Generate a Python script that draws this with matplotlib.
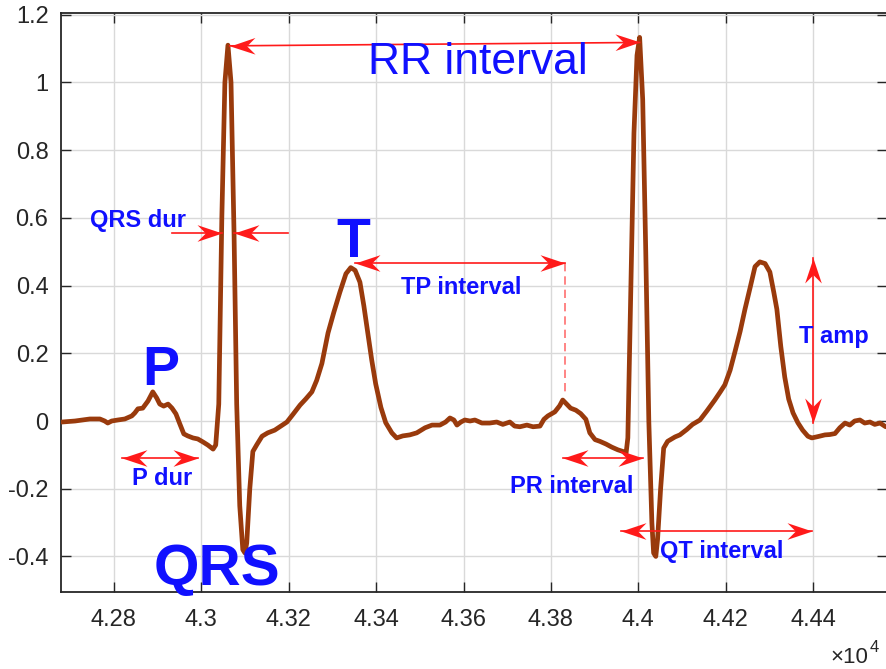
import numpy as np
import matplotlib
matplotlib.use("Agg")
import matplotlib.pyplot as plt
from matplotlib.path import Path
from matplotlib.markers import MarkerStyle
from matplotlib.transforms import Affine2D
from matplotlib.ticker import FuncFormatter

plt.rcParams['font.family'] = ['Liberation Sans', 'DejaVu Sans']

# ECG trace (sample index, amplitude)
ecg_x = [42681, 42711, 42745, 42768, 42779, 42786, 42795, 42809, 42825, 42841,
         42848, 42855, 42866, 42878, 42889, 42898, 42905, 42914, 42924, 42933,
         42942, 42951, 42960, 42969, 42981, 42992, 43004, 43015, 43027, 43033,
         43040, 43047, 43054, 43061, 43068, 43075, 43081, 43088, 43095, 43100,
         43104, 43111, 43118, 43127, 43139, 43152, 43168, 43182, 43196, 43210,
         43226, 43239, 43253, 43264, 43276, 43290, 43303, 43317, 43331, 43342,
         43352, 43363, 43372, 43381, 43390, 43399, 43411, 43422, 43436, 43447,
         43461, 43477, 43493, 43512, 43528, 43546, 43559, 43569, 43578, 43585,
         43594, 43603, 43615, 43626, 43642, 43660, 43676, 43690, 43706, 43717,
         43729, 43745, 43759, 43775, 43784, 43793, 43809, 43820, 43827, 43836,
         43845, 43857, 43868, 43880, 43889, 43901, 43912, 43926, 43939, 43953,
         43965, 43972, 43976, 43983, 43990, 43997, 44003, 44010, 44017, 44024,
         44031, 44035, 44040, 44044, 44051, 44058, 44067, 44084, 44095, 44111,
         44124, 44141, 44157, 44175, 44187, 44198, 44210, 44221, 44233, 44244,
         44256, 44267, 44278, 44290, 44301, 44310, 44317, 44326, 44335, 44344,
         44354, 44365, 44376, 44388, 44397, 44411, 44427, 44438, 44450, 44461,
         44473, 44484, 44495, 44507, 44518, 44530, 44541, 44553, 44566]
ecg_y = [-0.003, 0.0, 0.006, 0.006, 0.0, -0.006, 0.0, 0.003, 0.006, 0.015,
         0.024, 0.036, 0.038, 0.059, 0.086, 0.068, 0.05, 0.044, 0.05, 0.038,
         0.021, -0.009, -0.038, -0.044, -0.05, -0.053, -0.062, -0.071, -0.083, -0.071,
         0.05, 0.6, 1.0, 1.11, 1.0, 0.55, 0.05, -0.25, -0.38, -0.39,
         -0.36, -0.2, -0.09, -0.07, -0.045, -0.035, -0.027, -0.015, -0.003, 0.02,
         0.047, 0.065, 0.086, 0.12, 0.17, 0.26, 0.32, 0.38, 0.435, 0.453,
         0.445, 0.41, 0.34, 0.26, 0.18, 0.11, 0.04, -0.005, -0.035, -0.05,
         -0.044, -0.041, -0.035, -0.02, -0.012, -0.012, -0.003, 0.009, 0.003, -0.012,
         -0.003, 0.003, 0.0, 0.003, -0.006, -0.006, -0.003, -0.01, -0.003, -0.015,
         -0.017, -0.012, -0.017, -0.015, 0.005, 0.015, 0.027, 0.045, 0.062, 0.05,
         0.038, 0.032, 0.022, 0.005, -0.035, -0.055, -0.06, -0.068, -0.077, -0.085,
         -0.09, -0.095, -0.05, 0.4, 0.85, 1.08, 1.133, 0.95, 0.5, 0.0,
         -0.3, -0.39, -0.40, -0.35, -0.2, -0.08, -0.06, -0.047, -0.041, -0.025,
         -0.01, 0.003, 0.03, 0.062, 0.085, 0.107, 0.15, 0.204, 0.265, 0.33,
         0.395, 0.456, 0.47, 0.465, 0.44, 0.38, 0.33, 0.22, 0.13, 0.065,
         0.024, -0.005, -0.027, -0.045, -0.05, -0.046, -0.041, -0.04, -0.037, -0.02,
         -0.006, -0.012, 0.0, 0.003, -0.006, -0.003, -0.01, -0.006, -0.017]

x_ticks = [42800, 43000, 43200, 43400, 43600, 43800, 44000, 44200, 44400]
y_ticks = [-0.4, -0.2, 0, 0.2, 0.4, 0.6, 0.8, 1.0, 1.2]

# interval arrows: (x0, y0, x1, y1, head at start, head at end)
arrows = [
    (43065, 1.108, 44003, 1.118, True, True),     # RR
    (42933, 0.556, 43047, 0.556, False, True),    # QRS dur left
    (43198, 0.556, 43075, 0.556, False, True),    # QRS dur right
    (42818, -0.109, 42992, -0.109, True, True),   # P dur
    (43352, 0.467, 43832, 0.467, True, True),     # TP
    (43827, -0.109, 44010, -0.109, True, True),   # PR
    (43960, -0.325, 44397, -0.325, True, True),   # QT
    (44399, 0.482, 44399, -0.006, True, True),    # T amp
]

# labels: (text, x, y, size, bold)
labels = [
    ("RR interval", 43633, 1.024, 32, False),
    ("QRS dur", 42855, 0.574, 17, True),
    ("P dur", 42910, -0.189, 17, True),
    ("TP interval", 43594, 0.376, 17, True),
    ("PR interval", 43848, -0.213, 17, True),
    ("QT interval", 44191, -0.405, 17, True),
    ("T amp", 44447, 0.231, 17, True),
    ("P", 42908, 0.107, 40, True),
    ("T", 43347, 0.485, 40, True),
    ("QRS", 43036, -0.485, 42, True),
]

RED = '#ff1a1a'
BLUE = '#1010ff'
AXC = '#262626'

fig = plt.figure(figsize=(8.86, 6.69), dpi=100)
ax = fig.add_axes([61 / 886, 77 / 669, 826 / 886, 579 / 669])
ax.set_xlim(42679, 44569)
ax.set_ylim(-0.505, 1.205)

ax.grid(True, color='#d9d9d9', lw=1.0)
ax.set_axisbelow(True)

ax.plot(ecg_x, ecg_y, color='#993a0c', lw=3.4, solid_joinstyle='round',
        solid_capstyle='round', zorder=3)

ax.set_xticks(x_ticks)
ax.set_yticks(y_ticks)
ax.xaxis.set_major_formatter(FuncFormatter(lambda v, p: f"{v / 1e4:g}"))
ax.yaxis.set_major_formatter(FuncFormatter(lambda v, p: f"{v:g}"))
ax.tick_params(direction='in', top=True, right=True, length=7, width=1.0,
               colors=AXC, labelsize=17)
ax.tick_params(axis='x', pad=12)
ax.tick_params(axis='y', pad=9)
for s in ax.spines.values():
    s.set_color(AXC)
    s.set_linewidth(1.3)

# exponent label of the x axis
ax.text(0.978, -0.123, "\u00d710", transform=ax.transAxes, ha='right',
        va='baseline', fontsize=16, color=AXC)
ax.text(0.979, -0.104, "4", transform=ax.transAxes, ha='left',
        va='baseline', fontsize=12, color=AXC)

# swept-back arrow head, tip at origin pointing to +x
head_path = Path([(0, 0), (-1.5, 0.5), (-1.0, 0), (-1.5, -0.5), (0, 0)],
                 [Path.MOVETO, Path.LINETO, Path.LINETO, Path.LINETO, Path.CLOSEPOLY])


def head(angle):
    return MarkerStyle(head_path, transform=Affine2D().rotate_deg(angle))


fig.canvas.draw()
for x0, y0, x1, y1, h0, h1 in arrows:
    ax.plot([x0, x1], [y0, y1], color=RED, lw=1.2, zorder=4)
    p0 = ax.transData.transform((x0, y0))
    p1 = ax.transData.transform((x1, y1))
    ang = np.degrees(np.arctan2(p1[1] - p0[1], p1[0] - p0[0]))
    if h1:
        ax.plot([x1], [y1], marker=head(ang), ms=36, color=RED, ls='none',
                mew=0, zorder=4, clip_on=False)
    if h0:
        ax.plot([x0], [y0], marker=head(ang + 180), ms=36, color=RED, ls='none',
                mew=0, zorder=4, clip_on=False)

# dashed drop line of TP interval
ax.plot([43832, 43832], [0.467, 0.083], color='#ff7070', lw=1.2, ls=(0, (5, 3)), zorder=2)

for txt, x, y, size, bold in labels:
    ax.text(x, y, txt, ha='center', va='baseline', fontsize=size, color=BLUE,
            fontweight='bold' if bold else 'normal', zorder=5, clip_on=False)

fig.savefig("out.png", dpi=100, facecolor="white")
